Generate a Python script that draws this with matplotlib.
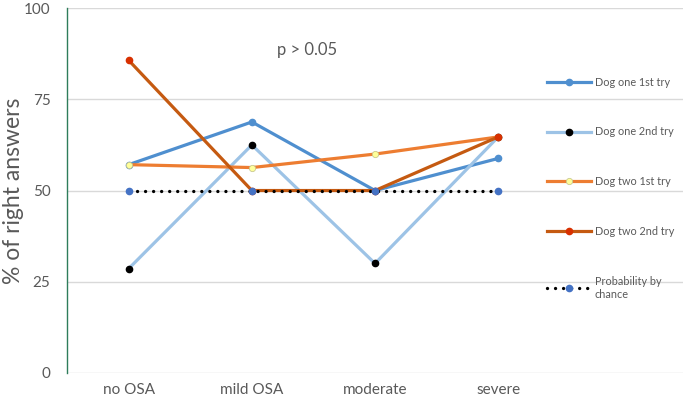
import numpy as np
import matplotlib.pyplot as plt

plt.rcParams['font.family'] = ['Lato', 'DejaVu Sans']

# data
categories = ['no OSA', 'mild OSA', 'moderate', 'severe']
dog_one_1st = [57.1, 68.8, 50.0, 58.8]
dog_one_2nd = [28.6, 62.5, 30.0, 64.7]
dog_two_1st = [57.1, 56.3, 60.0, 64.7]
dog_two_2nd = [85.7, 50.0, 50.0, 64.7]
chance = [50, 50, 50, 50]
yticks = [0, 25, 50, 75, 100]

txt = '#595959'
x = np.arange(len(categories))

fig = plt.figure(figsize=(6.85, 4.08), dpi=100)
ax = fig.add_axes([0.098, 0.086, 0.899, 0.894])

lw = 2.3
ms = 4.5
ax.plot(x, dog_one_1st, color='#4f8fcf', lw=lw, marker='o', ms=ms,
        mfc='#4f8fcf', mec='#4f8fcf', label='Dog one 1st try', zorder=3)
ax.plot(x, dog_one_2nd, color='#9dc3e6', lw=lw, marker='o', ms=ms,
        mfc='black', mec='black', label='Dog one 2nd try', zorder=3)
ax.plot(x, dog_two_1st, color='#ed7d31', lw=lw, marker='o', ms=ms,
        mfc='#ffff99', mec='#c8c890', mew=0.6, label='Dog two 1st try', zorder=3)
ax.plot(x, dog_two_2nd, color='#c55a11', lw=lw, marker='o', ms=ms,
        mfc='#d83000', mec='#d83000', label='Dog two 2nd try', zorder=3)
ax.plot(x, chance, color='black', lw=2.4, linestyle=(0, (0.01, 2.4)),
        dash_capstyle='round', marker='o', ms=ms, mfc='#4472c4', mec='#4472c4',
        label='Probability by\nchance', zorder=4)

ax.set_xlim(-0.5, 4.5)
ax.set_ylim(0, 100)
ax.set_yticks(yticks)
ax.set_xticks(x)
ax.set_xticklabels(categories)
ax.tick_params(axis='both', length=0, labelsize=11, colors=txt)
ax.tick_params(axis='x', pad=7)
ax.tick_params(axis='y', pad=12)
ax.yaxis.grid(True, color='#d9d9d9', lw=1)
ax.set_axisbelow(True)
for s in ['top', 'right', 'bottom']:
    ax.spines[s].set_visible(False)
ax.spines['left'].set_color('#2e7d5b')
ax.spines['left'].set_linewidth(1)

ax.set_ylabel('% of right answers', fontsize=16.5, color=txt, labelpad=0)

ax.text(1.2, 88.5, 'p > 0.05', fontsize=12, color=txt, va='center')

leg = ax.legend(loc='upper left', bbox_to_anchor=(0.773, 0.824), frameon=False,
                fontsize=7.8, labelspacing=3.58, handlelength=3.98,
                handletextpad=0.38, borderaxespad=0)
for t in leg.get_texts():
    t.set_color(txt)

fig.savefig('out.png', dpi=100)
